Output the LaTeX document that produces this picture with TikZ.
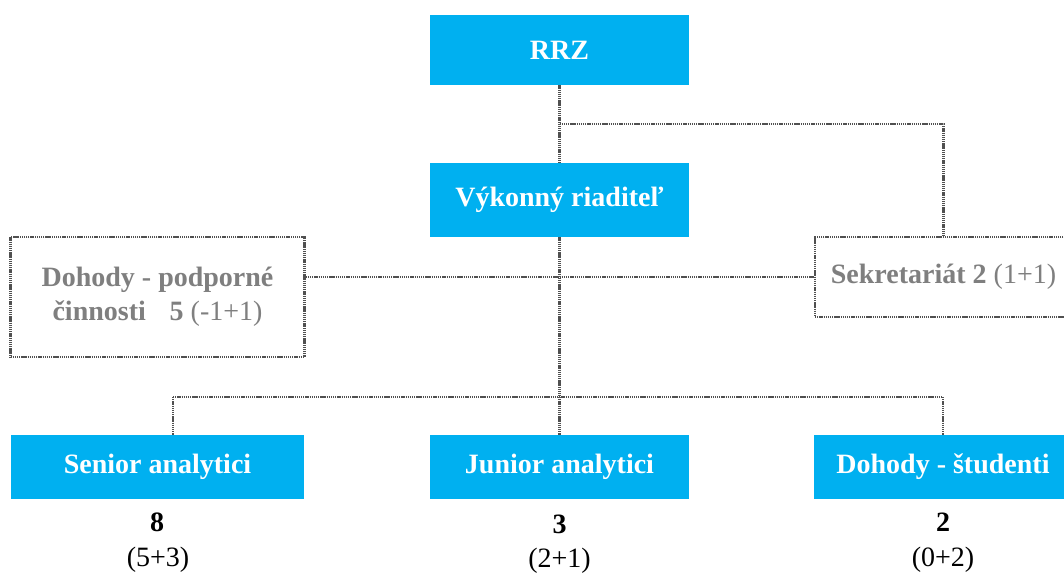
\documentclass[tikz,border=0pt]{standalone}
\usepackage{fontspec}
\setmainfont{Liberation Serif}
\definecolor{boxblue}{HTML}{00B0F0}
\definecolor{txtgray}{HTML}{7F7F7F}
\definecolor{lngray}{HTML}{505050}
\newlength\pxu
\setlength\pxu{0.75pt}
\tikzset{
  conn/.style={draw=lngray, line width=1.8pt, dash pattern=on 1pt off 0.6pt},
  bluebox/.style={fill=boxblue, text=white, inner sep=0pt, align=center},
  graybox/.style={conn, fill=white, text=txtgray, inner sep=0pt, align=center},
  numlbl/.style={text=black, inner sep=0pt}
}
\begin{document}
\begin{tikzpicture}[x=0.75pt,y=-0.75pt,
  font=\fontsize{21}{25.5}\selectfont\bfseries]
\useasboundingbox (0,0) rectangle (1064,573);
% boxes
\node[bluebox, minimum width=259\pxu, minimum height=70\pxu] (rrz) at (559.5,50) {RRZ};
\node[bluebox, minimum width=259\pxu, minimum height=74\pxu] (vr) at (559.5,200) {Výkonný riaditeľ};
\node[graybox, minimum width=294\pxu, minimum height=120\pxu] (pod) at (157.5,297)
  {Dohody - podporné\\činnosti\hspace{0.6em} 5 {\mdseries(-1+1)}};
\node[graybox, minimum width=257\pxu, minimum height=80\pxu] (sek) at (943.5,277)
  {Sekretariát 2 {\mdseries(1+1)}};
\node[bluebox, minimum width=293\pxu, minimum height=64\pxu] (sen) at (157.5,467) {Senior analytici};
\node[bluebox, minimum width=259\pxu, minimum height=64\pxu] (jun) at (559.5,467) {Junior analytici};
\node[bluebox, minimum width=258\pxu, minimum height=64\pxu] (stu) at (943,467) {Dohody - študenti};
% numbers
\node[numlbl] (n8) at (157,522) {8};
\node[numlbl] (p8) at (158,560) {\mdseries(5+3)};
\node[numlbl] (n3) at (559.5,524) {3};
\node[numlbl] (p3) at (559.5,561) {\mdseries(2+1)};
\node[numlbl] (n2) at (943,522) {2};
\node[numlbl] (p2) at (943,560) {\mdseries(0+2)};
% junctions
\coordinate (j1) at (559.5,124);
\coordinate (bus) at (559.5,397);
\coordinate (bl) at (173,397);
\coordinate (br) at (943,397);
% connectors
\draw[conn] (rrz.south) -- (vr.north);
\draw[conn] (j1) -| (sek.north);
\draw[conn] (pod.east |- sek.west) -- (sek.west);
\draw[conn] (vr.south) -- (bus);
\draw[conn] (bl) -- (br);
\draw[conn] (bl) -- (bl |- sen.north);
\draw[conn] (bus) -- (jun.north);
\draw[conn] (br) -- (br |- stu.north);
\end{tikzpicture}
\end{document}
